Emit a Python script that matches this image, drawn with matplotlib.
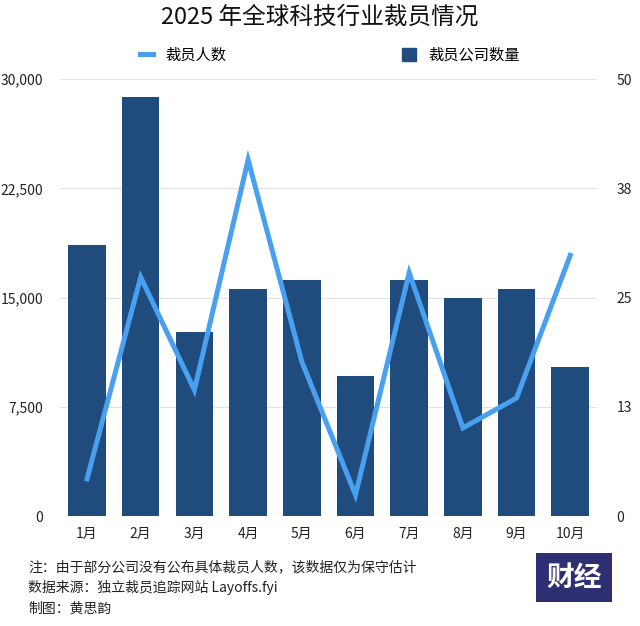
import matplotlib
matplotlib.use("Agg")
import matplotlib.pyplot as plt
from matplotlib.patches import Rectangle
from matplotlib.lines import Line2D

plt.rcParams['font.family'] = ['Noto Sans CJK SC', 'DejaVu Sans']

# data
months = ['1月', '2月', '3月', '4月', '5月', '6月', '7月', '8月', '9月', '10月']
people = [2550, 16400, 8650, 24450, 10600, 1450, 16700, 6050, 8100, 17900]
companies = [31, 48, 21, 26, 27, 16, 27, 25, 26, 17]

left_ticks = [0, 7500, 15000, 22500, 30000]
left_labels = ['0', '7,500', '15,000', '22,500', '30,000']
right_ticks = [0, 12.5, 25, 37.5, 50]
right_labels = ['0', '13', '25', '38', '50']

bar_color = '#1f4b7d'
line_color = '#4aa0f0'
text_color = '#222222'

fig = plt.figure(figsize=(6.4, 6.26), dpi=100)
ax = fig.add_axes([0.094, 0.1757, 0.839, 0.698])
ax2 = ax.twinx()

# bars on the right axis (drawn in the lower axes so the line stays on top)
x = list(range(len(months)))
ax.bar(x, companies, width=0.7, color=bar_color, zorder=2)
ax.set_ylim(0, 50)
ax.yaxis.tick_right()
ax.yaxis.set_label_position('right')
ax.set_yticks(right_ticks)
ax.set_yticklabels(right_labels)
ax.set_xlim(-0.5, len(months) - 0.5)
ax.set_xticks(x)
ax.set_xticklabels(months)
ax.grid(axis='y', color='#e2e2e2', linewidth=0.8, zorder=0)
ax.set_axisbelow(True)

# line on the left axis
ax2.plot(x, people, color=line_color, linewidth=3.6, solid_joinstyle='miter', zorder=3)
ax2.set_ylim(0, 30000)
ax2.yaxis.tick_left()
ax2.yaxis.set_label_position('left')
ax2.set_yticks(left_ticks)
ax2.set_yticklabels(left_labels)

for a in (ax, ax2):
    for s in a.spines.values():
        s.set_visible(False)
    a.tick_params(length=0, labelsize=10, colors=text_color)
ax.tick_params(axis='x', pad=8)
ax.tick_params(axis='y', pad=14)
ax2.tick_params(axis='y', pad=12)

fig.text(0.5, 0.972, '2025 年全球科技行业裁员情况', ha='center', va='center',
         fontsize=17, color='#111111')

handles = [Line2D([0], [0], color=line_color, linewidth=3.6),
           Rectangle((0, 0), 1, 1, color=bar_color)]
fig.legend(handles, ['裁员人数', '裁员公司数量'], loc='center',
           bbox_to_anchor=(0.515, 0.912), ncol=2, frameon=False,
           fontsize=11, handlelength=0.9, handleheight=1.0,
           columnspacing=11.5, handletextpad=0.8)

notes = ['注：由于部分公司没有公布具体裁员人数，该数据仅为保守估计',
         '数据来源：独立裁员追踪网站 Layoffs.fyi',
         '制图：黄思韵']
for i, t in enumerate(notes):
    fig.text(0.044, 0.094 - i * 0.033, t, ha='left', va='center',
             fontsize=10, color=text_color)

# logo block
fig.patches.append(Rectangle((0.838, 0.038), 0.118, 0.078, transform=fig.transFigure,
                             facecolor='#2e2f72', edgecolor='none'))
fig.text(0.897, 0.077, '财经', ha='center', va='center', fontsize=20,
         color='white', fontweight='bold')

fig.savefig('out.png', dpi=100)
